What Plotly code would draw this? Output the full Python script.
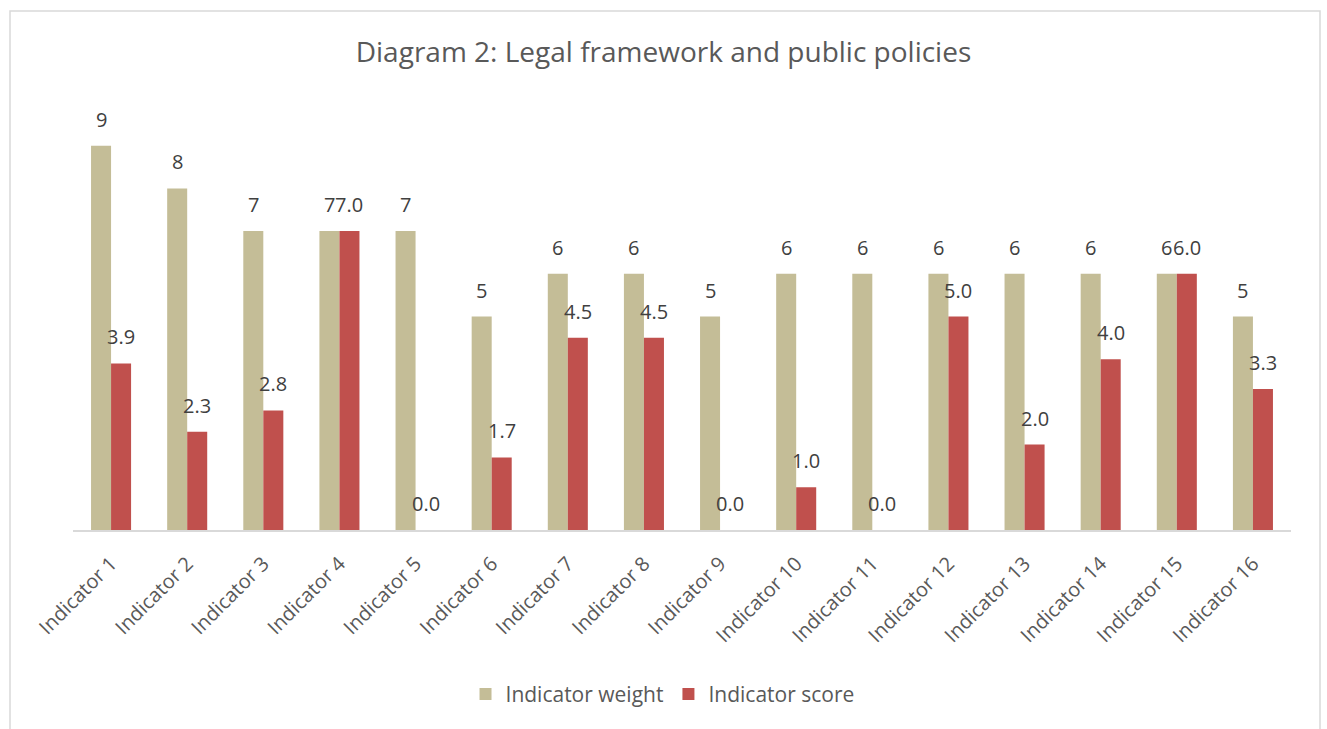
import plotly.graph_objects as go

categories = [f"Indicator {i}" for i in range(1, 17)]
weights = [9, 8, 7, 7, 7, 5, 6, 6, 5, 6, 6, 6, 6, 6, 6, 5]
scores = [3.9, 2.3, 2.8, 7.0, 0.0, 1.7, 4.5, 4.5, 0.0, 1.0, 0.0, 5.0, 2.0, 4.0, 6.0, 3.3]

W_COLOR = "#C4BD97"
S_COLOR = "#C0504D"
TXT = "#595959"
FONT = "Open Sans"

fig = go.Figure()
fig.add_trace(go.Bar(name="Indicator weight", x=categories, y=weights,
                     marker=dict(color=W_COLOR, line=dict(width=0))))
fig.add_trace(go.Bar(name="Indicator score", x=categories, y=scores,
                     marker=dict(color=S_COLOR, line=dict(width=0))))

annotations = []
for c, w, s in zip(categories, weights, scores):
    annotations.append(dict(x=c, y=w, xref="x", yref="y", text=f"{w:g}", showarrow=False,
                            xshift=-10, yshift=11, yanchor="bottom",
                            font=dict(family=FONT, size=20, color="#404040")))
    annotations.append(dict(x=c, y=s, xref="x", yref="y", text=f"{s:.1f}", showarrow=False,
                            xshift=10, yshift=11, yanchor="bottom",
                            font=dict(family=FONT, size=20, color="#404040")))

fig.update_layout(
    width=1327, height=729,
    margin=dict(l=73, r=36, t=103, b=199),
    paper_bgcolor="white", plot_bgcolor="white",
    barmode="group", bargap=0.474, bargroupgap=0,
    title=dict(text="Diagram 2: Legal framework and public policies",
               x=0.5, xanchor="center", y=1 - 52 / 729, yanchor="middle",
               font=dict(family=FONT, size=28, color=TXT)),
    font=dict(family=FONT, color=TXT),
    xaxis=dict(tickangle=-45, tickfont=dict(family=FONT, size=20, color=TXT),
               showline=True, linecolor="#D9D9D9", linewidth=2, ticks="",
               ticklabelstandoff=12,
               showgrid=False, fixedrange=True),
    yaxis=dict(range=[0, 10], visible=False, showgrid=False, fixedrange=True),
    legend=dict(orientation="h", x=0.484, xanchor="center", y=-0.385, yanchor="middle",
                font=dict(family=FONT, size=21, color=TXT), itemwidth=30,
                traceorder="normal"),
    annotations=annotations,
    shapes=[dict(type="rect", xref="paper", yref="paper",
                 x0=(10 - 73) / 1218, x1=(1320 - 73) / 1218,
                 y0=(530 - 740) / 427, y1=(530 - 11) / 427,
                 line=dict(color="#D9D9D9", width=1.5), fillcolor="rgba(0,0,0,0)",
                 layer="below")],
)

fig.write_html("out.html", config={"displayModeBar": False},
               post_script="document.body.style.margin='0';document.body.style.overflow='hidden';")
